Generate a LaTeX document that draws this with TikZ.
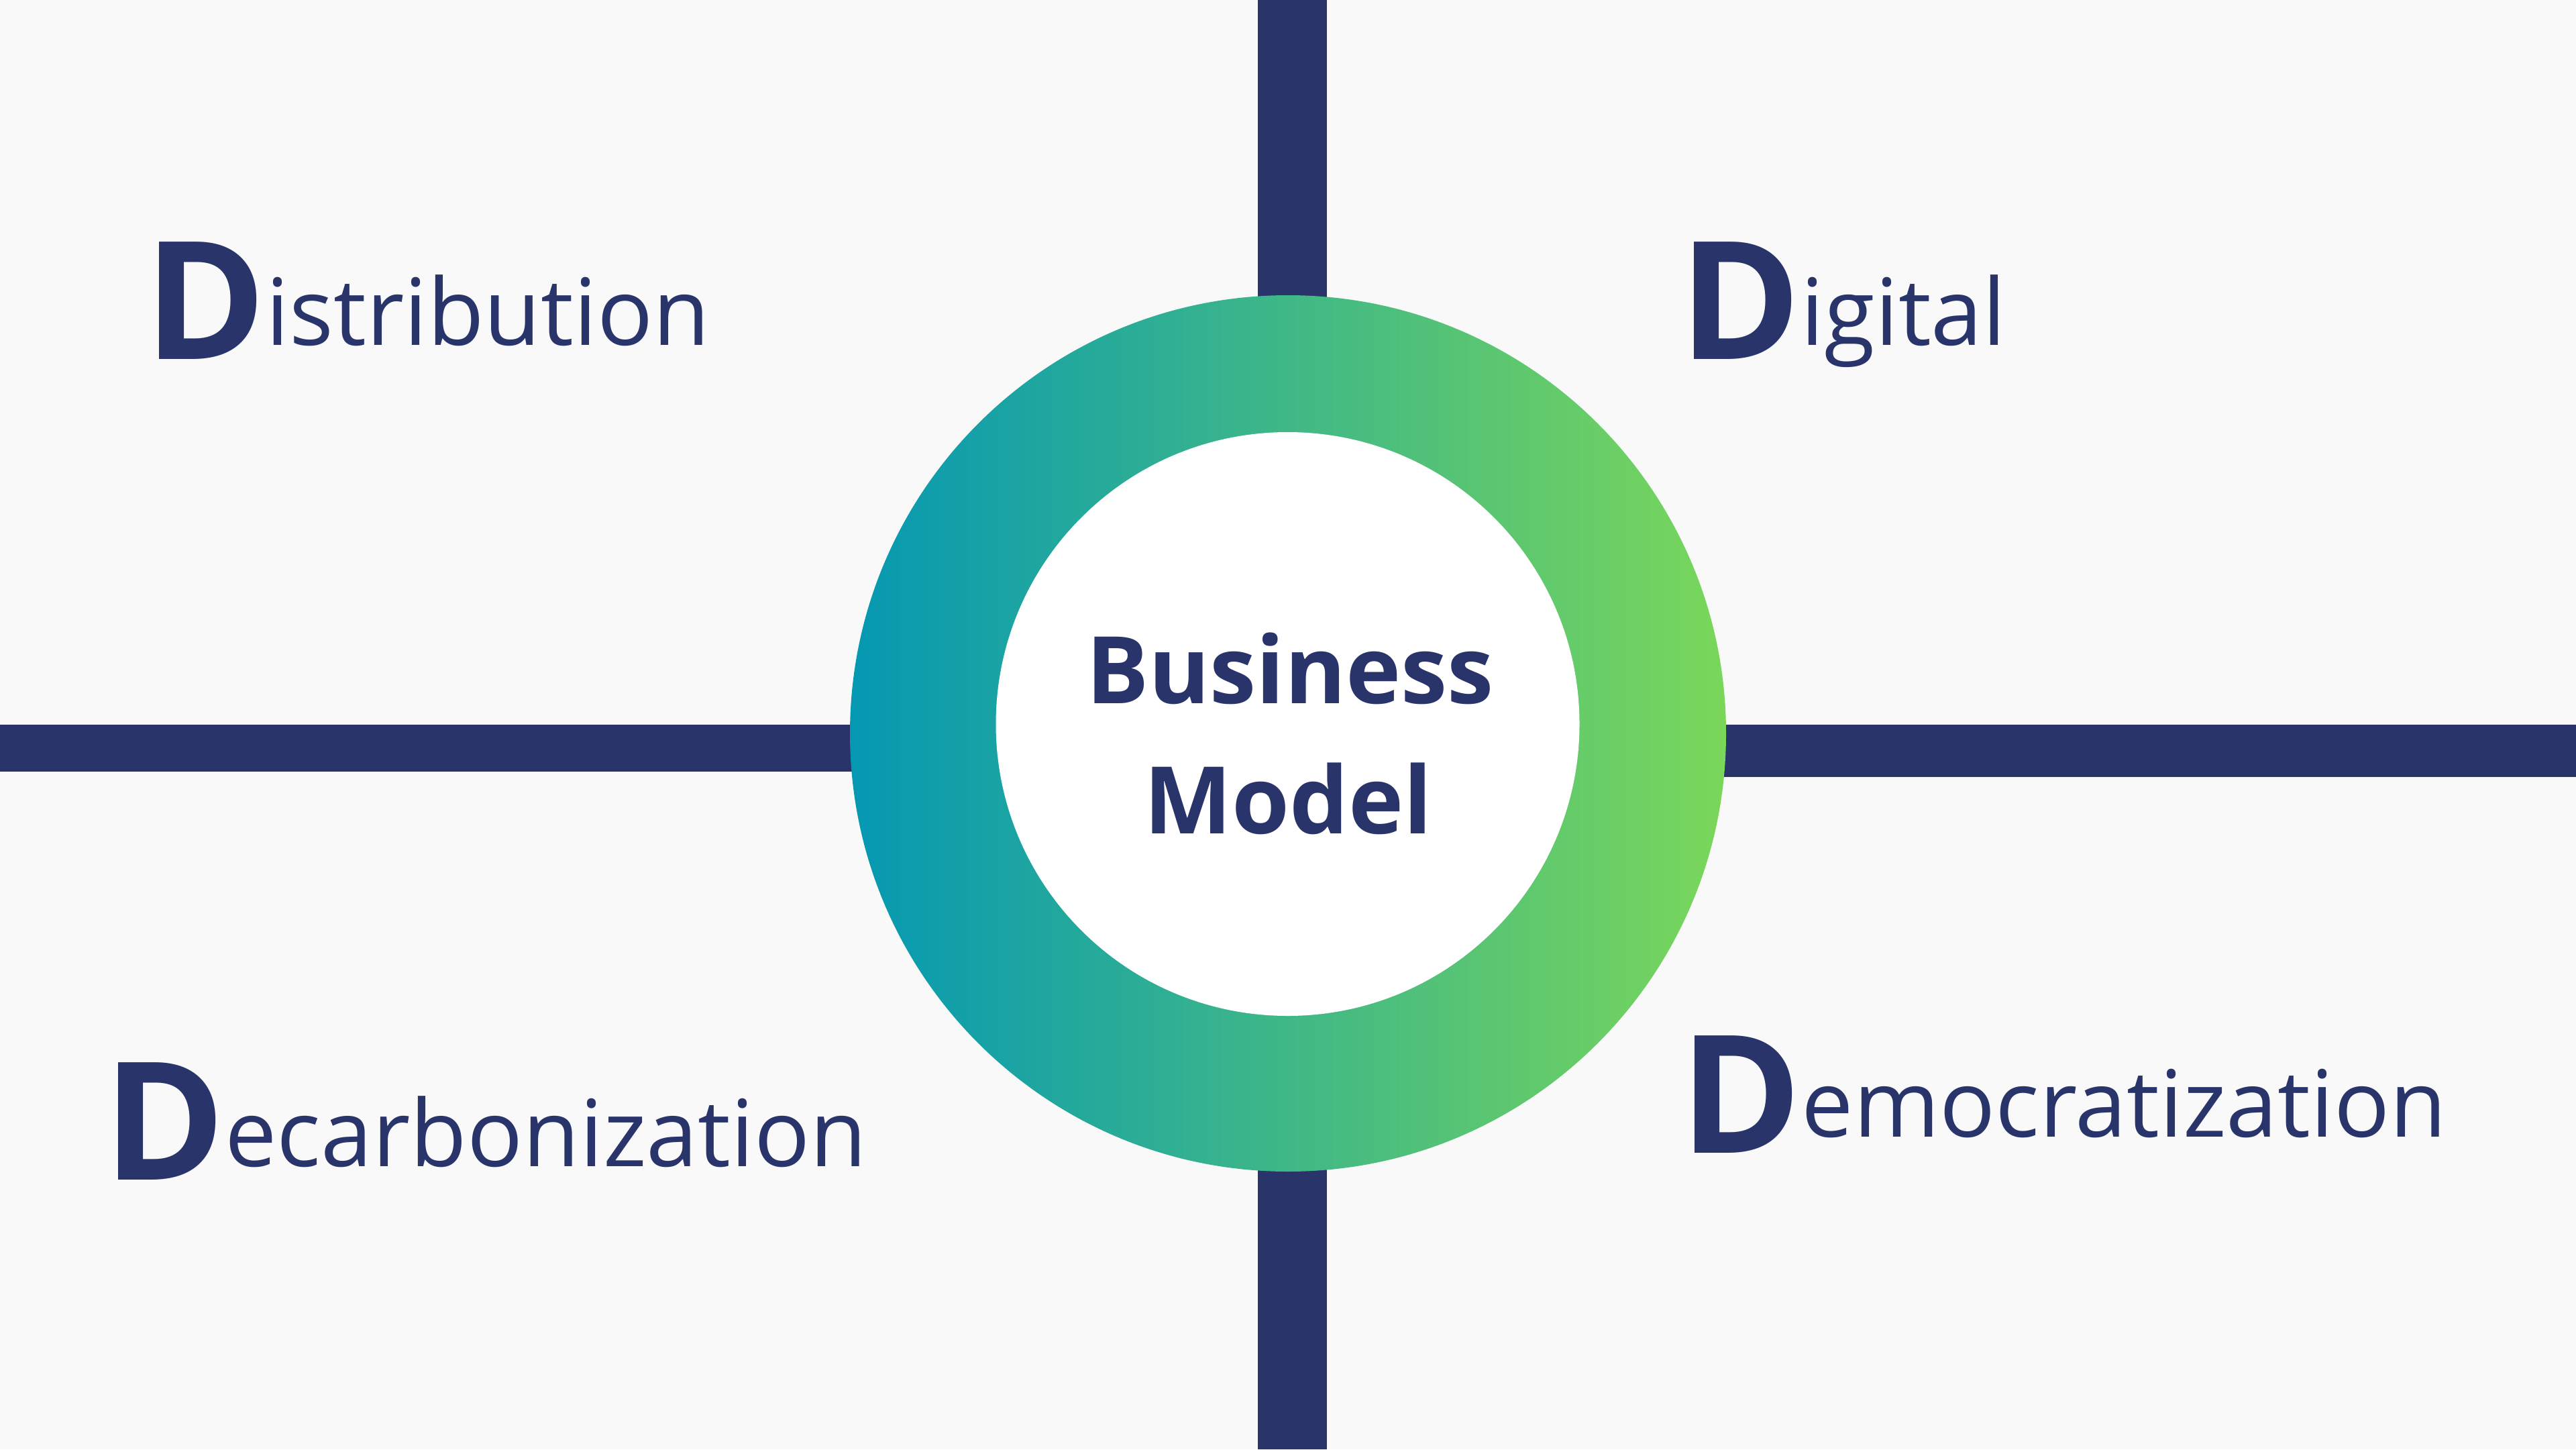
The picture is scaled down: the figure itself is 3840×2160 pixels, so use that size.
\documentclass[tikz,border=0pt]{standalone}
\usepackage{fontspec}
\newfontfamily\osans{Open Sans}
\newcommand\bigDfont{\osans\bfseries\fontsize{245}{250}\selectfont}
\definecolor{bgc}{HTML}{F9F9F9}
\definecolor{navy}{HTML}{29346B}
\definecolor{gleft}{HTML}{0598B3}
\definecolor{gright}{HTML}{7AD75A}
\tikzset{
  barfill/.style={fill=navy, draw=none},
  lbl/.style={anchor=base west, inner sep=0pt, text=navy, font=\osans\fontsize{138}{150}\selectfont},
  center text/.style={anchor=base, inner sep=0pt, text=navy, font=\osans\bfseries\fontsize{139}{150}\selectfont}
}
\begin{document}
\begin{tikzpicture}[x=1pt,y=-1pt]
\useasboundingbox (0,0) rectangle (3840,2160);
\fill[bgc] (0,0) rectangle (3840,2160);
% bars
\fill[barfill] (1875,0) rectangle (1978,600);
\fill[barfill] (1875,1600) rectangle (1978,2160);
\fill[barfill] (0,1080) rectangle (1400,1150);
\fill[barfill] (2450,1080) rectangle (3840,1158);
% ring
\coordinate (ringc) at (1920,1093);
\coordinate (innerc) at (1919.5,1079);
\shade[left color=gleft, right color=gright, draw=none]
  (ringc) circle[radius=653];
\fill[white] (innerc) circle[radius=435];
% center text
\node[center text] (bm1) at (1923,1048) {Business};
\node[center text] (bm2) at (1920,1242) {Model};
% labels
\node[lbl] (dist) at (215,535) {{\bigDfont D}\raisebox{21pt}{istribution}};
\node[lbl] (digi) at (2503,535) {{\bigDfont D}\raisebox{21pt}{igital}};
\node[lbl] (decarb) at (154,1758) {{\bigDfont D}\raisebox{20pt}{ecarbonization}};
\node[lbl] (democ) at (2504,1718) {{\bigDfont D}\raisebox{24pt}{emocratization}};
\end{tikzpicture}
\end{document}
